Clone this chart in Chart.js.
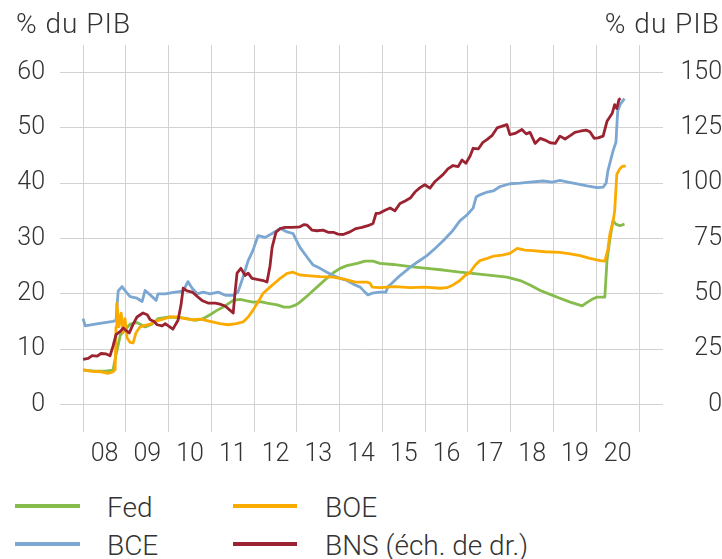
<!DOCTYPE html>
<html><head><meta charset="utf-8">
<script src="https://cdn.jsdelivr.net/npm/chart.js@4.4.1/dist/chart.umd.min.js"></script>
<style>
html,body{margin:0;padding:0;background:#fff;}
#wrap{position:relative;width:722px;height:559px;overflow:hidden;font-family:Roboto,'Liberation Sans',sans-serif;font-weight:300;color:#333;}
#c{position:absolute;left:0;top:0;}
.t{position:absolute;font-size:28px;line-height:28px;white-space:nowrap;}
.ttl{letter-spacing:1px;}
.lg{position:absolute;height:4px;}
</style></head>
<body>
<div id="wrap">
<canvas id="c" width="722" height="480"></canvas>
<div class="t ttl" style="left:16px;top:9.5px;">% du PIB</div>
<div class="t ttl" style="right:2px;top:9.5px;">% du PIB</div>
<div id="legend"></div>
</div>
<script>
const yearLabels = ['08','09','10','11','12','13','14','15','16','17','18','19','20'];
const yearGrid = [2008,2009,2010,2011,2012,2013,2014,2015,2016,2017,2018,2019,2020,2021];
const leftTicks = [0,10,20,30,40,50,60];
const rightTicks = [0,25,50,75,100,125,150];

const seriesNames = ['Fed','BCE','BOE','BNS (éch. de dr.)'];

const fedYears = [2008.00,2008.28,2008.51,2008.70,2008.77,2008.87,2008.98,2009.10,2009.26,2009.45,2009.61,2009.75,2010.03,2010.38,2010.62,2010.78,2010.97,2011.13,2011.32,2011.51,2011.67,2011.83,2011.97,2012.14,2012.30,2012.54,2012.70,2012.84,2012.98,2013.07,2013.24,2013.38,2013.54,2013.70,2013.85,2014.01,2014.17,2014.41,2014.59,2014.78,2014.94,2015.25,2015.65,2016.04,2016.42,2016.81,2017.21,2017.59,2017.91,2018.22,2018.45,2018.69,2018.92,2019.15,2019.39,2019.67,2019.76,2019.90,2020.02,2020.20,2020.25,2020.32,2020.39,2020.46,2020.55,2020.66];
const fedValues = [6.2,6.0,6.0,6.2,9.0,12.5,13.5,14.5,14.8,14.0,14.5,15.5,15.8,15.6,15.2,15.4,16.2,17.0,17.8,18.8,19.0,18.7,18.5,18.6,18.3,18.0,17.6,17.6,18.0,18.5,19.6,20.6,21.7,22.8,23.8,24.6,25.1,25.5,25.9,25.9,25.5,25.3,24.9,24.6,24.3,23.9,23.6,23.3,23.0,22.4,21.6,20.6,19.9,19.2,18.5,17.8,18.3,19.0,19.4,19.4,26.0,30.0,33.2,32.6,32.3,32.6];

const bceYears = [2008.00,2008.05,2008.28,2008.51,2008.70,2008.77,2008.82,2008.91,2009.01,2009.10,2009.26,2009.38,2009.45,2009.57,2009.71,2009.75,2009.92,2010.15,2010.34,2010.45,2010.55,2010.67,2010.81,2010.97,2011.16,2011.34,2011.51,2011.62,2011.74,2011.86,2011.97,2012.09,2012.26,2012.42,2012.61,2012.77,2012.91,2013.07,2013.24,2013.38,2013.54,2013.70,2013.85,2014.01,2014.17,2014.36,2014.48,2014.59,2014.66,2014.76,2014.94,2015.08,2015.13,2015.22,2015.41,2015.65,2015.83,2016.04,2016.23,2016.42,2016.63,2016.81,2016.98,2017.12,2017.19,2017.28,2017.45,2017.59,2017.75,2017.98,2018.22,2018.45,2018.76,2018.97,2019.15,2019.34,2019.55,2019.78,2020.02,2020.16,2020.23,2020.27,2020.39,2020.46,2020.50,2020.57,2020.66];
const bceValues = [15.5,14.2,14.5,14.8,15.0,15.2,20.5,21.3,20.3,19.5,19.2,18.6,20.6,19.8,18.8,20.0,20.0,20.3,20.5,22.2,21.0,20.0,20.3,20.0,20.3,19.7,19.7,20.3,23.0,26.0,27.8,30.5,30.2,30.9,31.8,31.2,30.9,28.4,26.6,25.2,24.6,23.9,23.3,22.8,22.4,21.6,21.2,20.3,19.8,20.1,20.3,20.3,21.3,21.9,23.3,24.8,25.8,26.9,28.2,29.6,31.3,33.2,34.3,35.5,37.5,37.9,38.4,38.6,39.4,39.9,40.0,40.2,40.4,40.2,40.5,40.2,39.9,39.5,39.2,39.3,40.0,42.2,45.8,47.4,53.0,54.4,55.3];

const boeYears = [2008.00,2008.16,2008.40,2008.58,2008.70,2008.75,2008.77,2008.79,2008.84,2008.89,2008.94,2008.98,2009.03,2009.10,2009.17,2009.24,2009.33,2009.45,2009.57,2009.68,2009.87,2010.03,2010.22,2010.38,2010.57,2010.74,2010.97,2011.20,2011.39,2011.58,2011.74,2011.86,2011.97,2012.09,2012.21,2012.37,2012.49,2012.61,2012.77,2012.91,2013.07,2013.24,2013.54,2013.85,2014.13,2014.36,2014.64,2014.71,2014.76,2014.94,2015.29,2015.65,2015.99,2016.35,2016.51,2016.65,2016.81,2016.93,2017.05,2017.17,2017.28,2017.45,2017.59,2017.80,2017.98,2018.15,2018.33,2018.52,2018.80,2019.15,2019.39,2019.62,2019.85,2020.09,2020.20,2020.27,2020.32,2020.39,2020.43,2020.48,2020.55,2020.62,2020.69];
const boeValues = [6.3,6.0,5.9,5.6,5.9,6.3,14.0,18.3,14.0,16.5,13.0,15.5,12.0,11.2,11.1,13.0,14.0,14.3,14.5,15.0,15.4,15.8,15.8,15.5,15.3,15.4,15.0,14.6,14.4,14.6,14.9,15.8,17.0,18.5,20.1,21.2,22.0,22.8,23.7,23.9,23.4,23.3,23.1,23.0,22.6,22.1,22.1,21.9,21.2,21.1,21.3,21.1,21.2,21.0,21.1,21.6,22.4,23.3,23.9,25.2,26.0,26.4,26.8,27.0,27.3,28.2,27.9,27.8,27.6,27.5,27.2,26.9,26.4,26.0,25.9,28.0,30.9,33.0,35.0,41.6,42.6,43.1,43.1];

const bnsYears = [2008.00,2008.12,2008.21,2008.33,2008.42,2008.54,2008.63,2008.70,2008.77,2008.87,2008.94,2009.01,2009.08,2009.17,2009.26,2009.40,2009.50,2009.57,2009.66,2009.73,2009.85,2009.92,2010.01,2010.10,2010.22,2010.29,2010.34,2010.43,2010.55,2010.67,2010.78,2010.92,2011.09,2011.20,2011.32,2011.44,2011.51,2011.55,2011.60,2011.69,2011.79,2011.86,2011.95,2012.07,2012.21,2012.30,2012.37,2012.42,2012.51,2012.61,2012.72,2012.89,2013.07,2013.17,2013.24,2013.35,2013.47,2013.61,2013.73,2013.85,2013.96,2014.08,2014.24,2014.38,2014.52,2014.66,2014.78,2014.85,2014.94,2015.06,2015.18,2015.29,2015.41,2015.53,2015.65,2015.76,2015.88,2015.99,2016.11,2016.23,2016.42,2016.53,2016.65,2016.77,2016.86,2016.95,2017.05,2017.12,2017.24,2017.35,2017.45,2017.56,2017.68,2017.80,2017.91,2017.98,2018.10,2018.22,2018.26,2018.36,2018.45,2018.57,2018.69,2018.80,2018.92,2019.04,2019.15,2019.27,2019.39,2019.50,2019.62,2019.76,2019.85,2019.95,2020.04,2020.16,2020.25,2020.37,2020.43,2020.48,2020.53,2020.57];
const bnsValues = [20.3,20.8,22.0,21.8,23.0,22.8,22.0,26.3,31.5,33.0,34.5,33.3,32.3,36.3,39.5,41.3,40.5,38.3,37.5,36.0,35.5,36.5,35.3,34.0,38.0,45.0,52.5,51.3,50.8,48.8,47.0,45.8,45.8,45.3,44.5,42.5,41.3,50.0,59.3,61.5,58.3,59.3,57.0,56.5,56.0,55.3,62.5,71.0,77.8,79.5,80.0,80.0,80.3,81.3,81.0,78.8,78.5,78.8,77.8,77.8,77.0,76.8,78.0,79.5,80.0,80.8,81.8,86.3,86.5,87.8,88.8,87.5,90.8,92.0,93.3,96.0,98.0,99.3,97.8,100.8,104.0,106.5,108.0,107.5,110.5,109.0,112.3,115.8,115.5,118.5,119.8,121.5,125.0,125.8,126.5,122.0,122.5,123.8,124.3,122.3,123.0,118.0,120.3,119.5,118.3,118.0,121.3,120.0,121.5,123.0,123.5,124.0,123.3,120.3,120.5,121.3,128.0,131.5,135.5,133.8,137.8,138.3];

const colors = ['#86bc4c','#7ba7d2','#fbab00','#9b2230'];
const textColor = '#333333';
const gridColor = '#d2d2d2';
const FONT = {family:"Roboto, 'Liberation Sans', sans-serif", size:25, weight:'300'};

function pts(xs, ys){ return xs.map((x,i)=>({x:x, y:ys[i]})); }

const seriesData = [[fedYears,fedValues,'y',4],[bceYears,bceValues,'y',3],[boeYears,boeValues,'y',2],[bnsYears,bnsValues,'y2',1]];

const datasets = seriesData.map((s,i)=>({
  label: seriesNames[i],
  data: pts(s[0], s[1]),
  yAxisID: s[2],
  order: s[3],
  borderColor: colors[i],
  backgroundColor: colors[i],
  borderWidth: 2.8,
  pointRadius: 0,
  tension: 0,
  fill: false,
  borderJoinStyle: 'round'
}));

new Chart(document.getElementById('c'), {
  type: 'line',
  data: { datasets },
  options: {
    responsive: false,
    animation: false,
    devicePixelRatio: 1,
    layout: { padding: { top: 45, left: 0, right: 0, bottom: 0 } },
    plugins: { legend: { display: false }, tooltip: { enabled: false } },
    scales: {
      x: {
        type: 'linear',
        min: 2007.46, max: 2021.56,
        afterBuildTicks: (s) => { s.ticks = yearGrid.map(v => ({ value: v })); },
        afterFit: (s) => { s.height = 48; },
        grid: { color: gridColor, lineWidth: 1, drawTicks: false },
        border: { display: false },
        ticks: {
          autoSkip: false, maxRotation: 0, minRotation: 0,
          color: textColor, font: FONT, padding: 8, labelOffset: 21.4,
          callback: (v) => { const i = yearGrid.indexOf(v); return i >= 0 && i < yearLabels.length ? yearLabels[i] : ''; }
        }
      },
      y: {
        position: 'left',
        min: -5, max: 65,
        afterBuildTicks: (s) => { s.ticks = leftTicks.map(v => ({ value: v })); },
        afterFit: (s) => { s.width = 60; },
        grid: { color: gridColor, lineWidth: 1, drawTicks: false },
        border: { display: false },
        ticks: { color: textColor, font: FONT, padding: 15 }
      },
      y2: {
        position: 'right',
        min: -12.5, max: 162.5,
        afterBuildTicks: (s) => { s.ticks = rightTicks.map(v => ({ value: v })); },
        afterFit: (s) => { s.width = 59; },
        grid: { display: false, drawTicks: false },
        border: { display: false },
        ticks: { color: textColor, font: FONT, padding: 13, crossAlign: 'far' }
      }
    }
  }
});

// HTML legend (2 columns, column-major)
const legendLine = [[15,506,65],[15,544,65],[233,506,64],[233,544,64]];
const legendText = [[107,493.5],[107,531.5],[325,493.5],[325,531.5]];
const lg = document.getElementById('legend');
seriesNames.forEach((name, k) => {
  const [lx, ly, lw] = legendLine[k];
  const line = document.createElement('div');
  line.className = 'lg';
  line.style.left = lx + 'px';
  line.style.top = (ly - 2) + 'px';
  line.style.width = lw + 'px';
  line.style.background = colors[k];
  lg.appendChild(line);
  const t = document.createElement('div');
  t.className = 't';
  t.style.left = legendText[k][0] + 'px';
  t.style.top = legendText[k][1] + 'px';
  t.textContent = name;
  lg.appendChild(t);
});
</script>
</body></html>
